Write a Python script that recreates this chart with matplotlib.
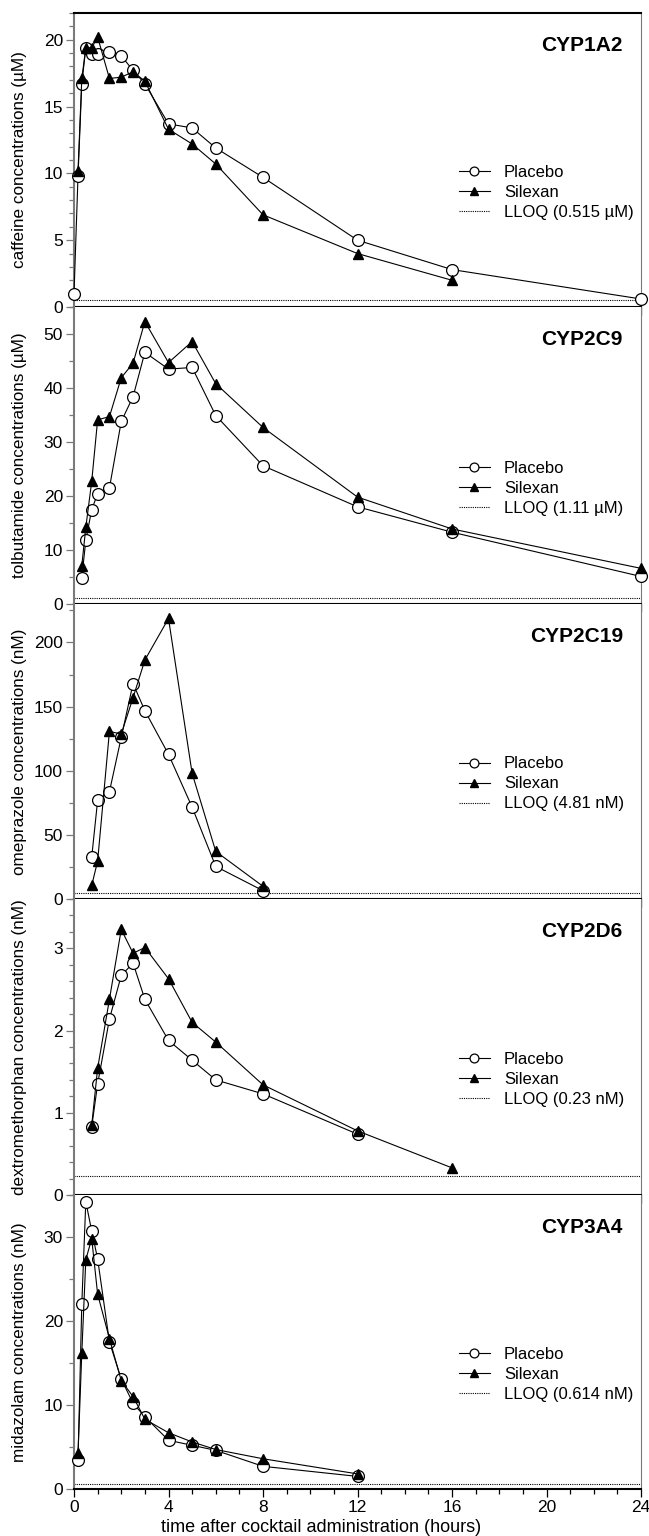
#!/usr/bin/env python3
# -*- coding: utf-8 -*-
"""
Concentration-time profiles of the probe drugs (placebo vs. Silexan),
one panel per CYP enzyme, stacked on a shared time axis.
"""

import matplotlib
matplotlib.use("Agg")
import matplotlib.pyplot as plt
from matplotlib.ticker import MultipleLocator

plt.rcParams["font.family"] = ["Liberation Sans", "DejaVu Sans"]

# ---- data -----------------------------------------------------------------
# CYP1A2 - caffeine (µM)
caf_t_pla = [0, 0.17, 0.33, 0.5, 0.75, 1, 1.5, 2, 2.5, 3, 4, 5, 6, 8, 12, 16, 24]
caf_pla = [1.0, 9.8, 16.7, 19.4, 18.9, 18.9, 19.1, 18.8, 17.7, 16.7, 13.7, 13.4, 11.9, 9.7, 5.0, 2.8, 0.6]
caf_t_sil = [0.17, 0.33, 0.5, 0.75, 1, 1.5, 2, 2.5, 3, 4, 5, 6, 8, 12, 16]
caf_sil = [10.2, 17.1, 19.4, 19.4, 20.2, 17.1, 17.2, 17.6, 16.9, 13.3, 12.2, 10.7, 6.9, 4.0, 2.0]

# CYP2C9 - tolbutamide (µM)
tol_t = [0.33, 0.5, 0.75, 1, 1.5, 2, 2.5, 3, 4, 5, 6, 8, 12, 16, 24]
tol_pla = [4.9, 11.8, 17.5, 20.4, 21.5, 33.8, 38.4, 46.6, 43.5, 43.8, 34.9, 25.6, 18.0, 13.3, 5.1]
tol_sil = [7.1, 14.2, 22.7, 34.1, 34.7, 41.9, 44.6, 52.3, 44.7, 48.6, 40.8, 32.7, 19.8, 13.9, 6.6]

# CYP2C19 - omeprazole (nM)
ome_t = [0.75, 1, 1.5, 2, 2.5, 3, 4, 5, 6, 8]
ome_pla = [32.8, 76.8, 83.7, 126, 168, 146.8, 112.8, 71.6, 25.4, 6.5]
ome_sil = [10.6, 29.5, 130.7, 128.6, 157, 186.3, 218.7, 98, 37.1, 9.9]

# CYP2D6 - dextromethorphan (nM)
dex_t_pla = [0.75, 1, 1.5, 2, 2.5, 3, 4, 5, 6, 8, 12]
dex_pla = [0.83, 1.35, 2.14, 2.67, 2.82, 2.38, 1.88, 1.64, 1.40, 1.23, 0.74]
dex_t_sil = [0.75, 1, 1.5, 2, 2.5, 3, 4, 5, 6, 8, 12, 16]
dex_sil = [0.85, 1.54, 2.38, 3.23, 2.94, 3.01, 2.63, 2.10, 1.86, 1.34, 0.78, 0.33]

# CYP3A4 - midazolam (nM)
mid_t = [0.17, 0.33, 0.5, 0.75, 1, 1.5, 2, 2.5, 3, 4, 5, 6, 8, 12]
mid_pla = [3.5, 22.0, 34.2, 30.7, 27.4, 17.5, 13.1, 10.2, 8.6, 5.8, 5.2, 4.6, 2.7, 1.5]
mid_sil = [4.3, 16.2, 27.3, 29.8, 23.2, 17.9, 12.9, 11.0, 8.3, 6.7, 5.6, 4.7, 3.6, 1.8]

enzymes = ["CYP1A2", "CYP2C9", "CYP2C19", "CYP2D6", "CYP3A4"]
ylabels = ["caffeine concentrations (µM)",
           "tolbutamide concentrations (µM)",
           "omeprazole concentrations (nM)",
           "dextromethorphan concentrations (nM)",
           "midazolam concentrations (nM)"]
lloq_vals = [0.515, 1.11, 4.81, 0.23, 0.614]
lloq_labels = ["LLOQ (0.515 µM)", "LLOQ (1.11 µM)", "LLOQ (4.81 nM)",
               "LLOQ (0.23 nM)", "LLOQ (0.614 nM)"]
ylims = [22, 55, 230, 3.6, 35]
ymajor = [5, 10, 50, 1, 10]
yminor = [1, 5, 25, 0.2, 5]

series = [
    (caf_t_pla, caf_pla, caf_t_sil, caf_sil),
    (tol_t, tol_pla, tol_t, tol_sil),
    (ome_t, ome_pla, ome_t, ome_sil),
    (dex_t_pla, dex_pla, dex_t_sil, dex_sil),
    (mid_t, mid_pla, mid_t, mid_sil),
]

# ---- layout ---------------------------------------------------------------
W, H = 649, 1536
fig = plt.figure(figsize=(W / 100, H / 100), dpi=100)
left, right = 74, 641
edges = [13, 307, 604, 899, 1195, 1489]   # panel borders in pixels from top

GRAY = "#7a7a7a"

for i in range(5):
    top, bot = edges[i], edges[i + 1]
    ax = fig.add_axes([left / W, 1 - bot / H, (right - left) / W, (bot - top) / H])
    tp, vp, ts, vs = series[i]

    ax.axhline(lloq_vals[i], color="black", lw=0.8, ls=(0, (1, 1)),
               label=lloq_labels[i], zorder=2)
    ax.plot(tp, vp, "-o", color="black", lw=0.8, ms=8.5, mfc="white",
            mec="black", mew=0.9, clip_on=False, zorder=3, label="Placebo")
    ax.plot(ts, vs, "-^", color="black", lw=0.8, ms=7.5, mfc="black",
            mec="black", clip_on=False, zorder=4, label="Silexan")

    ax.set_xlim(0, 24)
    ax.set_ylim(0, ylims[i])
    ax.xaxis.set_major_locator(MultipleLocator(4))
    ax.xaxis.set_minor_locator(MultipleLocator(1))
    ax.yaxis.set_major_locator(MultipleLocator(ymajor[i]))
    ax.yaxis.set_minor_locator(MultipleLocator(yminor[i]))

    ax.tick_params(axis="both", which="major", direction="out", length=6,
                   width=0.9, labelsize=12.5, pad=2)
    ax.tick_params(axis="both", which="minor", direction="out", length=3.5,
                   width=0.9)
    ax.tick_params(axis="y", which="both", colors=GRAY, labelcolor="black")
    if i < 4:
        ax.tick_params(axis="x", which="both", labelbottom=False)

    ax.spines["left"].set_color(GRAY)
    ax.spines["left"].set_linewidth(1.5)
    ax.spines["right"].set_color(GRAY)
    ax.spines["right"].set_linewidth(0.8)
    ax.spines["bottom"].set_color("black")
    ax.spines["bottom"].set_linewidth(1.5)
    if i == 0:
        ax.spines["top"].set_linewidth(1.5)
    else:
        ax.spines["top"].set_visible(False)

    ax.set_ylabel(ylabels[i], fontsize=12.3)
    ax.yaxis.set_label_coords(-0.083, 0.5)

    ax.text(0.968, 0.89, enzymes[i], transform=ax.transAxes, ha="right",
            va="center", fontsize=15, fontweight="bold")

    h, l = ax.get_legend_handles_labels()
    order = [1, 2, 0]
    ax.legend([h[k] for k in order], [l[k] for k in order], frameon=False,
              loc="center left", bbox_to_anchor=(0.679, 0.39), fontsize=12,
              handlelength=1.85, handletextpad=0.85, labelspacing=0.3,
              markerscale=0.75, borderaxespad=0, borderpad=0)

fig.text(321 / W, 1 - 1527 / H, "time after cocktail administration (hours)",
         ha="center", va="center", fontsize=13)

fig.savefig("out.png", dpi=100)
